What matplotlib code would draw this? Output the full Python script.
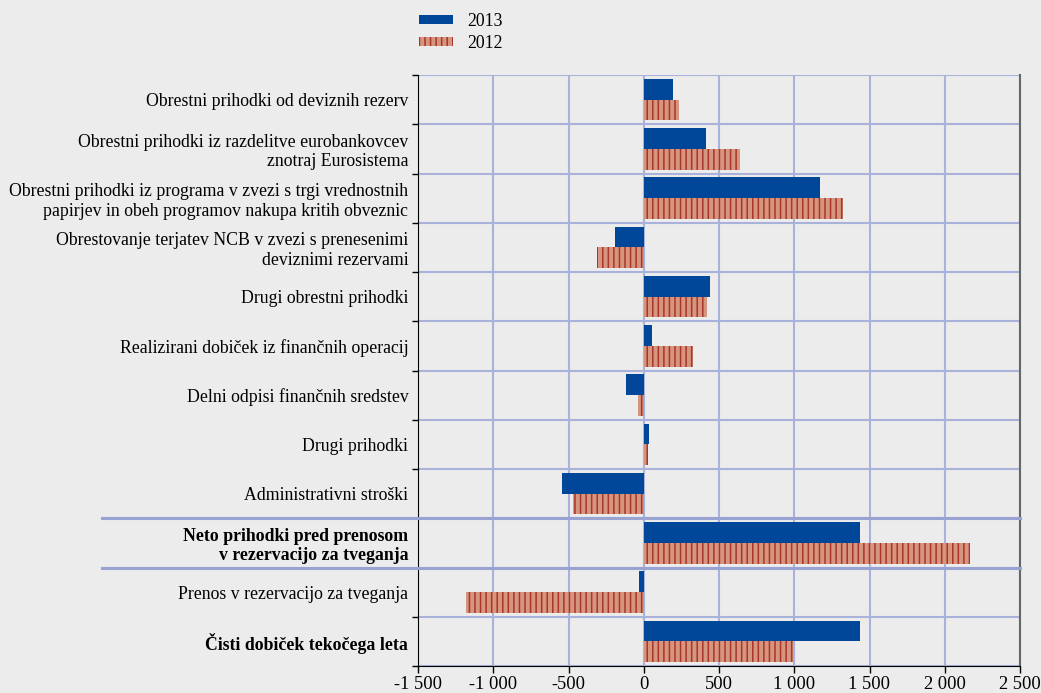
import matplotlib.pyplot as plt
import matplotlib.patches as mpatches
import numpy as np

categories = [
    'Obrestni prihodki od deviznih rezerv',
    'Obrestni prihodki iz razdelitve eurobankovcev\nznotraj Eurosistema',
    'Obrestni prihodki iz programa v zvezi s trgi vrednostnih\npapirjev in obeh programov nakupa kritih obveznic',
    'Obrestovanje terjatev NCB v zvezi s prenesenimi\ndeviznimi rezervami',
    'Drugi obrestni prihodki',
    'Realizirani dobiček iz finančnih operacij',
    'Delni odpisi finančnih sredstev',
    'Drugi prihodki',
    'Administrativni stroški',
    'Neto prihodki pred prenosom\nv rezervacijo za tveganja',
    'Prenos v rezervacijo za tveganja',
    'Čisti dobiček tekočega leta',
]
bold_rows = [9, 11]
v2013 = [193, 413, 1173, -193, 440, 53, -120, 33, -540, 1440, -33, 1440]
v2012 = [233, 637, 1327, -313, 420, 327, -40, 27, -471, 2167, -1180, 993]
xticks = [-1500, -1000, -500, 0, 500, 1000, 1500, 2000, 2500]
xticklabels = ['-1 500', '-1 000', '-500', '0', '500', '1 000', '1 500', '2 000', '2 500']

bg = '#ececec'
blue = '#00479a'
salmon = '#d6957f'
darkred = '#ab3529'
gridc = '#a9b2da'
fs = 12.8

plt.rcParams['font.family'] = 'Liberation Serif'
plt.rcParams['hatch.linewidth'] = 1.1

fig = plt.figure(figsize=(10.41, 6.93), dpi=100, facecolor=bg)
ax = fig.add_axes([418 / 1041, 1 - 666 / 693, (1020 - 418) / 1041, (666 - 75) / 693])
ax.set_facecolor(bg)

y = np.arange(len(categories))
h = 0.42
ax.barh(y + 0.29, v2013, height=h, color=blue, linewidth=0, zorder=3)
ax.barh(y + 0.71, v2012, height=h, facecolor=salmon, edgecolor=darkred,
        hatch='|||', linewidth=0, zorder=3)

ax.set_xlim(-1500, 2500)
ax.set_ylim(len(categories), 0)
ax.set_xticks(xticks)
ax.set_xticklabels(xticklabels, fontsize=13.3)
ax.set_yticks(y + 0.5)
ax.set_yticklabels(categories, fontsize=fs, ha='right')
ax.set_yticks(np.arange(len(categories) + 1), minor=True)
for i, lab in enumerate(ax.get_yticklabels()):
    if i in bold_rows:
        lab.set_fontweight('bold')

ax.tick_params(axis='y', which='major', length=0, pad=7)
ax.tick_params(axis='y', which='minor', length=4, width=1, color='black')
ax.tick_params(axis='x', length=5, width=1, color='black', pad=2)

ax.grid(axis='x', which='major', color=gridc, linewidth=1.5, zorder=0)
ax.grid(axis='y', which='minor', color=gridc, linewidth=1.5, zorder=0)
ax.set_axisbelow(True)

ax.spines['top'].set_visible(False)
ax.spines['left'].set_color('black')
ax.spines['bottom'].set_color('black')
ax.spines['right'].set_color('#666666')
ax.spines['right'].set_linewidth(1.5)

# separators around the net-income row reach into the label area
for yb in [9, 10]:
    ax.plot([-0.525, 1.0], [yb, yb], transform=ax.get_yaxis_transform(),
            color='#98a3d4', linewidth=2.2, clip_on=False, zorder=4)

handles = [mpatches.Patch(color=blue, linewidth=0, label='2013'),
           mpatches.Patch(facecolor=salmon, edgecolor=darkred, hatch='|||',
                          linewidth=0, label='2012')]
fig.legend(handles=handles, loc='upper left', bbox_to_anchor=(412 / 1041, 1 - 6 / 693),
           borderaxespad=0, frameon=False, fontsize=fs, handlelength=1.9,
           handleheight=0.42, handletextpad=0.8, labelspacing=0.25)

fig.savefig('out.png', dpi=100, facecolor=bg)
